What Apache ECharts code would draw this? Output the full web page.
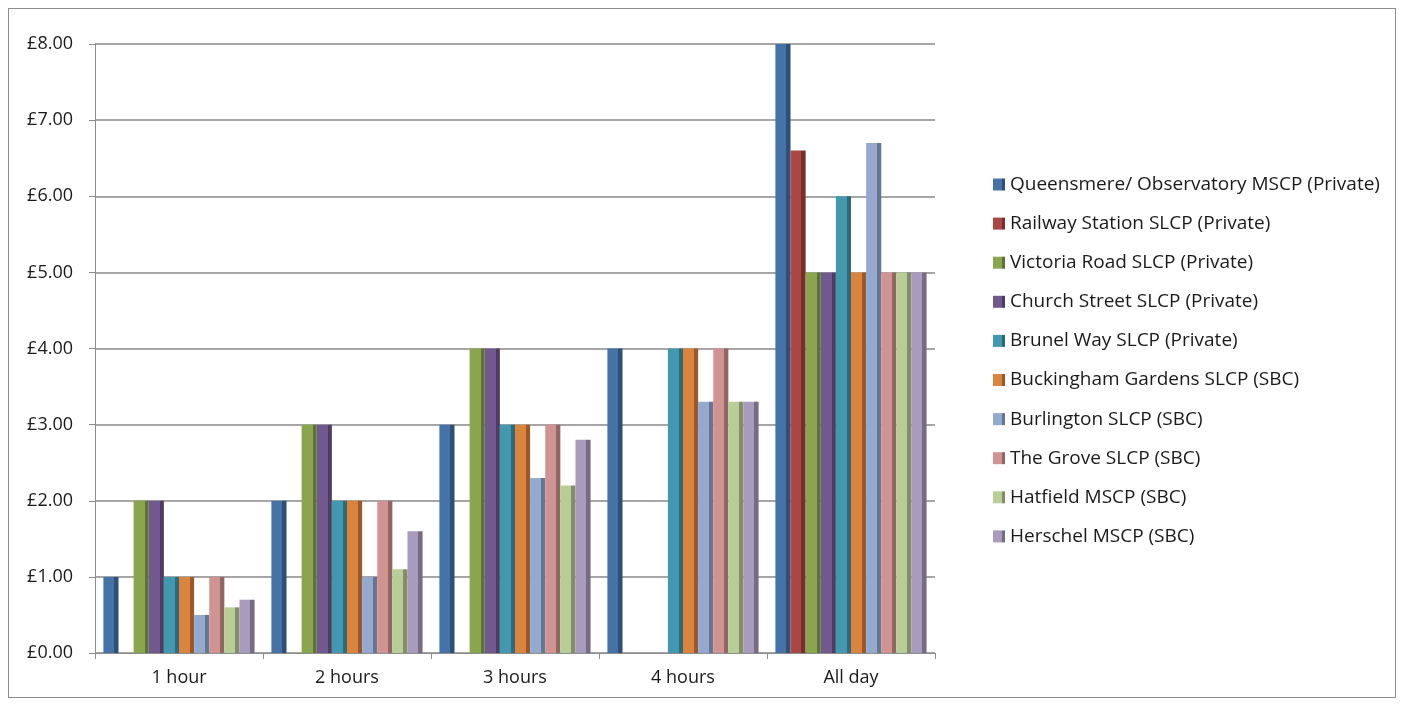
<!DOCTYPE html>
<html>
<head>
<meta charset="utf-8">
<script src="https://cdn.jsdelivr.net/npm/echarts@6/dist/echarts.min.js"></script>
<style>
html,body{margin:0;padding:0;background:#fff;}
#frame{position:absolute;left:8px;top:8px;width:1388px;height:690px;border:1px solid #8c8c8c;box-sizing:border-box;}
#c{position:absolute;left:0;top:0;width:1407px;height:706px;}
</style>
</head>
<body>
<div id="frame"></div>
<div id="c"></div>
<script>
const categories = ['1 hour', '2 hours', '3 hours', '4 hours', 'All day'];
const seriesNames = [
  'Queensmere/ Observatory MSCP (Private)',
  'Railway Station SLCP (Private)',
  'Victoria Road SLCP (Private)',
  'Church Street SLCP (Private)',
  'Brunel Way SLCP (Private)',
  'Buckingham Gardens SLCP (SBC)',
  'Burlington SLCP (SBC)',
  'The Grove SLCP (SBC)',
  'Hatfield MSCP (SBC)',
  'Herschel MSCP (SBC)'
];
const queensmere = [1, 2, 3, 4, 8];
const railway = [null, null, null, null, 6.6];
const victoria = [2, 3, 4, null, 5];
const church = [2, 3, 4, null, 5];
const brunel = [1, 2, 3, 4, 6];
const buckingham = [1, 2, 3, 4, 5];
const burlington = [0.5, 1, 2.3, 3.3, 6.7];
const grove = [1, 2, 3, 4, 5];
const hatfield = [0.6, 1.1, 2.2, 3.3, 5];
const herschel = [0.7, 1.6, 2.8, 3.3, 5];
const yTicks = [0, 1, 2, 3, 4, 5, 6, 7, 8];

const allData = [queensmere, railway, victoria, church, brunel, buckingham, burlington, grove, hatfield, herschel];
const colors = ['#4572A7', '#AA4643', '#89A54E', '#71588F', '#4198AF', '#DB843D', '#93A9CF', '#D19392', '#B9CD96', '#A99BBD'];
const darks = ['#2F4F78', '#772F2D', '#5F7336', '#4E3D63', '#2D6A7A', '#99592A', '#667690', '#926665', '#818F69', '#766C84'];

const chart = echarts.init(document.getElementById('c'));
chart.setOption({
  animation: false,
  color: colors,
  grid: {left: 95, right: 472, top: 44, bottom: 53},
  legend: {
    orient: 'vertical',
    left: 988,
    top: 170,
    itemWidth: 12,
    itemHeight: 12,
    itemGap: 20.1,
    icon: 'rect',
    textStyle: {fontFamily: 'Open Sans', fontSize: 19, color: '#1a1a1a', padding: [0, 0, 0, 0]},
    data: seriesNames
  },
  xAxis: {
    type: 'category',
    data: categories,
    axisLine: {lineStyle: {color: '#8c8c8c', width: 1}},
    axisTick: {show: true, length: 6, lineStyle: {color: '#8c8c8c'}},
    axisLabel: {fontFamily: 'Open Sans', fontSize: 18, color: '#1a1a1a', margin: 16}
  },
  yAxis: {
    type: 'value',
    min: yTicks[0],
    max: yTicks[yTicks.length - 1],
    interval: 1,
    axisLine: {show: true, lineStyle: {color: '#8c8c8c'}},
    axisTick: {show: true, length: 6, lineStyle: {color: '#8c8c8c'}},
    axisLabel: {fontFamily: 'Open Sans', fontSize: 18, color: '#1a1a1a', margin: 22,
      formatter: v => '£' + v.toFixed(2)},
    splitLine: {lineStyle: {color: '#a6a6a6', width: 2}}
  },
  series: seriesNames.map((n, i) => ({
    name: n,
    type: 'bar',
    data: allData[i],
    barGap: '0%',
    barCategoryGap: '10%',
    itemStyle: {
      color: new echarts.graphic.LinearGradient(0, 0, 1, 0, [
        {offset: 0, color: colors[i]},
        {offset: 0.72, color: colors[i]},
        {offset: 0.72, color: darks[i]},
        {offset: 1, color: darks[i]}
      ])
    }
  }))
});
</script>
</body>
</html>
